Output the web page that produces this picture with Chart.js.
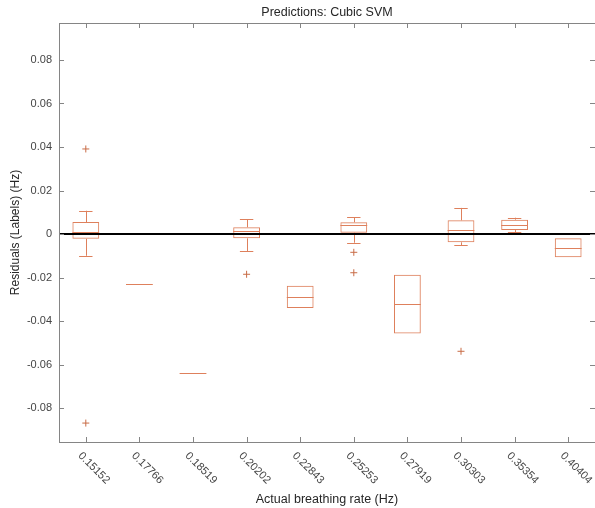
<!DOCTYPE html>
<html>
<head>
<meta charset="utf-8">
<script src="https://cdn.jsdelivr.net/npm/chart.js@4.4.1/dist/chart.umd.min.js"></script>
<style>
  html, body { margin: 0; padding: 0; background: #fff; overflow: hidden; }
  #wrap { width: 600px; height: 508px; }
</style>
</head>
<body>
<div id="wrap"><canvas id="residualChart" width="600" height="508"></canvas></div>
<script>
// breathing rate groups (x categories)
var rates = ["0.15152", "0.17766", "0.18519", "0.20202", "0.22843",
             "0.25253", "0.27919", "0.30303", "0.35354", "0.40404"];

// box plot summary per group (Hz)
var whiskerLow  = [-0.0100, -0.0229, -0.0638, -0.0078, -0.0340, -0.0040, -0.0457, -0.0052, 0.0008, -0.0107];
var quart1      = [-0.0022, -0.0229, -0.0638, -0.0020, -0.0340,  0.0006, -0.0457, -0.0038, 0.0018, -0.0107];
var medians     = [ 0.0010, -0.0229, -0.0638,  0.0014, -0.0288,  0.0040, -0.0323,  0.0017, 0.0043, -0.0063];
var quart3      = [ 0.0055, -0.0229, -0.0638,  0.0031, -0.0238,  0.0054, -0.0187,  0.0063, 0.0066, -0.0020];
var whiskerHigh = [ 0.0107, -0.0229, -0.0638,  0.0068, -0.0238,  0.0077, -0.0187,  0.0120, 0.0075, -0.0020];
var outliers = [[0.0391, -0.0869], [], [], [-0.0185], [], [-0.0084, -0.0178], [], [-0.0539], [], []];

var yTicks = [-0.08, -0.06, -0.04, -0.02, 0, 0.02, 0.04, 0.06, 0.08];

var boxColor = "rgb(222,128,92)";
var outlierColor = "rgb(200,108,70)";
var axisColor = "#858585";
var textColor = "#454545";
var fontFamily = "'Liberation Sans', Arial, Helvetica, sans-serif";

var outlierPoints = [];
outliers.forEach(function (list, i) {
  list.forEach(function (v) {
    outlierPoints.push({ x: rates[i], y: v });
  });
});

function hline(ctx, x1, x2, y) {
  y = Math.round(y) + 0.5;
  ctx.beginPath();
  ctx.moveTo(x1, y);
  ctx.lineTo(x2, y);
  ctx.stroke();
}

function vline(ctx, x, y1, y2) {
  x = Math.round(x) + 0.5;
  ctx.beginPath();
  ctx.moveTo(x, y1);
  ctx.lineTo(x, y2);
  ctx.stroke();
}

var boxPlotPlugin = {
  id: "boxPlotPlugin",
  afterDatasetsDraw: function (chart) {
    var ctx = chart.ctx;
    var xs = chart.scales.x;
    var ys = chart.scales.y;
    var area = chart.chartArea;
    var boxMeta = chart.getDatasetMeta(0);

    ctx.save();
    ctx.lineWidth = 1;
    ctx.strokeStyle = boxColor;
    rates.forEach(function (r, i) {
      var cx = xs.getPixelForValue(i);
      var half = boxMeta.data[i].width / 2;
      var yLo = ys.getPixelForValue(whiskerLow[i]);
      var yQ1 = ys.getPixelForValue(quart1[i]);
      var yMed = ys.getPixelForValue(medians[i]);
      var yQ3 = ys.getPixelForValue(quart3[i]);
      var yHi = ys.getPixelForValue(whiskerHigh[i]);
      if (yHi < yQ3) {
        vline(ctx, cx, yHi, yQ3);
        hline(ctx, cx - half / 2, cx + half / 2, yHi);
      }
      if (yLo > yQ1) {
        vline(ctx, cx, yQ1, yLo);
        hline(ctx, cx - half / 2, cx + half / 2, yLo);
      }
      hline(ctx, cx - half, cx + half, yMed);
    });

    // zero reference line
    ctx.strokeStyle = "#000";
    ctx.lineWidth = 2;
    var y0 = Math.round(ys.getPixelForValue(0));
    ctx.beginPath();
    ctx.moveTo(area.left, y0);
    ctx.lineTo(area.right, y0);
    ctx.stroke();
    ctx.restore();
  },
  afterDraw: function (chart) {
    var ctx = chart.ctx;
    var xs = chart.scales.x;
    var ys = chart.scales.y;
    var area = chart.chartArea;

    ctx.save();
    // axes box
    ctx.strokeStyle = axisColor;
    ctx.lineWidth = 1;
    ctx.strokeRect(Math.round(area.left) + 0.5, Math.round(area.top) + 0.5,
      Math.round(area.right - area.left), Math.round(area.bottom - area.top));

    // inward tick marks
    yTicks.forEach(function (v) {
      var py = ys.getPixelForValue(v);
      hline(ctx, area.left, area.left + 5, py);
      hline(ctx, area.right - 5, area.right, py);
    });
    rates.forEach(function (r, i) {
      var px = xs.getPixelForValue(i);
      vline(ctx, px, area.bottom - 5, area.bottom);
      vline(ctx, px, area.top, area.top + 5);
    });

    // rotated category labels
    ctx.fillStyle = textColor;
    ctx.font = "11px " + fontFamily;
    ctx.textAlign = "left";
    ctx.textBaseline = "middle";
    rates.forEach(function (r, i) {
      var px = xs.getPixelForValue(i);
      ctx.save();
      ctx.translate(px - 6, area.bottom + 12);
      ctx.rotate(Math.PI / 4);
      ctx.fillText(r, 0, 0);
      ctx.restore();
    });
    ctx.restore();
  }
};

var ctx = document.getElementById("residualChart").getContext("2d");
var residualChart = new Chart(ctx, {
  type: "bar",
  data: {
    labels: rates,
    datasets: [
      {
        type: "bar",
        data: rates.map(function (r, i) { return [quart1[i], quart3[i]]; }),
        backgroundColor: "rgba(0,0,0,0)",
        borderColor: boxColor,
        borderWidth: 1,
        borderSkipped: false,
        barPercentage: 0.5,
        categoryPercentage: 1.0,
      },
      {
        type: "line",
        data: outlierPoints,
        showLine: false,
        pointStyle: "cross",
        pointRadius: 3.5,
        pointBorderWidth: 1,
        pointBorderColor: outlierColor,
        pointBackgroundColor: outlierColor,
      },
    ],
  },
  plugins: [boxPlotPlugin],
  options: {
    responsive: false,
    animation: false,
    events: [],
    layout: { padding: { left: 0, right: 3, top: 0, bottom: 0 } },
    plugins: {
      legend: { display: false },
      tooltip: { enabled: false },
      title: {
        display: true,
        text: "Predictions: Cubic SVM",
        fullSize: false,
        color: "#262626",
        font: { family: fontFamily, size: 12.5, weight: "normal" },
        padding: { top: 5, bottom: 3 },
      },
    },
    scales: {
      x: {
        type: "category",
        offset: true,
        grid: { display: false, drawTicks: false },
        border: { display: false },
        ticks: { display: false },
        title: {
          display: true,
          text: "Actual breathing rate (Hz)",
          color: "#262626",
          font: { family: fontFamily, size: 12.5 },
          padding: { top: 0, bottom: 1 },
        },
        afterFit: function (scale) {
          scale.height = 66;
        },
      },
      y: {
        min: -0.0956,
        max: 0.097,
        grid: { display: false, drawTicks: false },
        border: { display: false },
        afterBuildTicks: function (scale) {
          scale.ticks = yTicks.map(function (v) { return { value: v }; });
        },
        ticks: {
          color: textColor,
          padding: 7,
          font: { family: fontFamily, size: 11 },
          callback: function (v) {
            return v === 0 ? "0" : v.toFixed(2);
          },
        },
        title: {
          display: true,
          text: "Residuals (Labels) (Hz)",
          color: "#262626",
          font: { family: fontFamily, size: 12 },
          padding: { top: 8, bottom: 0 },
        },
        afterFit: function (scale) {
          scale.width = 59;
        },
      },
    },
  },
});
</script>
</body>
</html>
